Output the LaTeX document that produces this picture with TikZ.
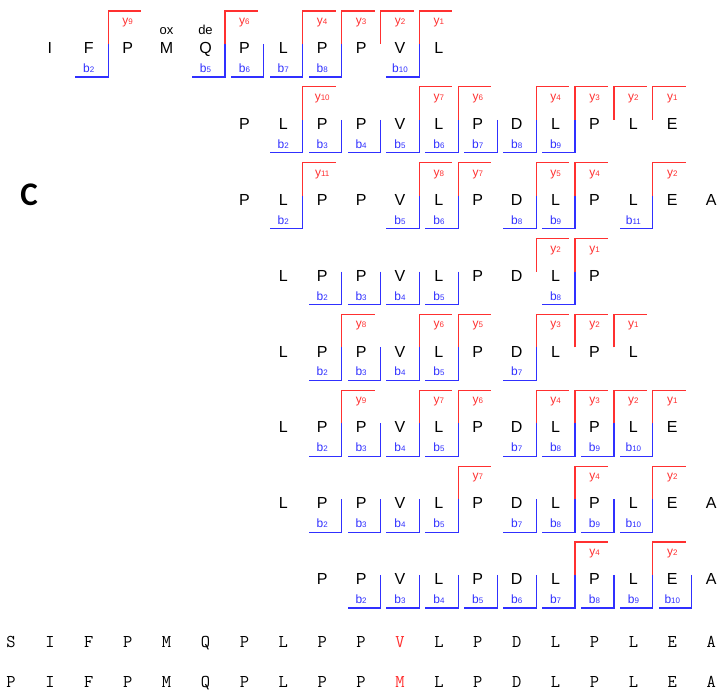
\documentclass[tikz,border=0pt]{standalone}
\usepackage{fontspec}
\setmainfont{Liberation Sans}
\newfontfamily\panelfont{Carlito}
\definecolor{yred}{HTML}{FF3030}
\definecolor{bblue}{HTML}{3030FF}

\begin{document}
\begin{tikzpicture}[x=1pt,y=-1pt,
    res/.style={anchor=base,inner sep=0pt,font=\fontsize{16}{19}\selectfont},
    mono/.style={anchor=base,inner sep=0pt,font=\ttfamily\addfontfeatures{FakeBold=1.6}\fontsize{18}{20}\selectfont},
    modlab/.style={anchor=base,inner sep=0pt,font=\fontsize{13}{15}\selectfont},
    blab/.style={anchor=base,inner sep=0pt,text=bblue,font=\fontsize{12}{14}\selectfont},
    ylab/.style={anchor=base,inner sep=0pt,text=yred,font=\fontsize{12}{14}\selectfont},
    bline/.style={draw=bblue,line width=1.2pt},
    yline/.style={draw=yred,line width=1.2pt}]
  \useasboundingbox (0,0) rectangle (724,698);

  % panel letter
  \node[inner sep=0pt,font=\panelfont\bfseries\fontsize{33}{40}\selectfont] (panel) at (29,195) {C};

  % fragment rows: row / first column / length / b ions / y ions / residues
  \foreach \r/\s/\n/\bl/\yl/\seq in {
      1/1/11/{2,5,6,7,8,10}/{9,6,4,3,2,1}/{I,F,P,M,Q,P,L,P,P,V,L},
      2/6/12/{2,3,4,5,6,7,8,9}/{10,7,6,4,3,2,1}/{P,L,P,P,V,L,P,D,L,P,L,E},
      3/6/13/{2,5,6,8,9,11}/{11,8,7,5,4,2}/{P,L,P,P,V,L,P,D,L,P,L,E,A},
      4/7/9/{2,3,4,5,8}/{2,1}/{L,P,P,V,L,P,D,L,P},
      5/7/10/{2,3,4,5,7}/{8,6,5,3,2,1}/{L,P,P,V,L,P,D,L,P,L},
      6/7/11/{2,3,4,5,7,8,9,10}/{9,7,6,4,3,2,1}/{L,P,P,V,L,P,D,L,P,L,E},
      7/7/12/{2,3,4,5,7,8,9,10}/{7,4,2}/{L,P,P,V,L,P,D,L,P,L,E,A},
      8/8/11/{2,3,4,5,6,7,8,9,10}/{4,2}/{P,P,V,L,P,D,L,P,L,E,A}}{
    \pgfmathsetmacro\yr{48+75.85*(\r-1)}
    \foreach \aa [count=\i from \s] in \seq
      \node[res] (r\r-\i) at ({11+38.9*\i},{\yr+5.7}) {\aa};
    \foreach \p in \bl {
      \pgfmathsetmacro\xc{11+38.9*(\s-1+\p)+19.45}
      \draw[bline] ({\xc},{\yr-4}) -- ++(0,33) -- ++(-33,0);
      \node[blab] (b\r-\p) at ({\xc-19.45},{\yr+24.5}) {b{\fontsize{8}{9}\selectfont\p}};
    }
    \foreach \j in \yl {
      \pgfmathsetmacro\xc{11+38.9*(\s-1+\n-\j)+19.45}
      \draw[yline] ({\xc},{\yr-4}) -- ++(0,-33) -- ++(33,0);
      \node[ylab] (y\r-\j) at ({\xc+19.45},{\yr-23.5}) {y{\fontsize{8}{9}\selectfont\j}};
    }
  }

  % modifications
  \node[modlab] (ox) at ({11+38.9*4},35) {ox};
  \node[modlab] (de) at ({11+38.9*5},35) {de};

  % full sequences
  \foreach \aa [count=\i from 0] in {S,I,F,P,M,Q,P,L,P,P,\textcolor{yred}{V},L,P,D,L,P,L,E,A}
    \node[mono] (s1-\i) at ({11+38.9*\i},647) {\aa};
  \foreach \aa [count=\i from 0] in {P,I,F,P,M,Q,P,L,P,P,\textcolor{yred}{M},L,P,D,L,P,L,E,A}
    \node[mono] (s2-\i) at ({11+38.9*\i},687) {\aa};
\end{tikzpicture}
\end{document}
